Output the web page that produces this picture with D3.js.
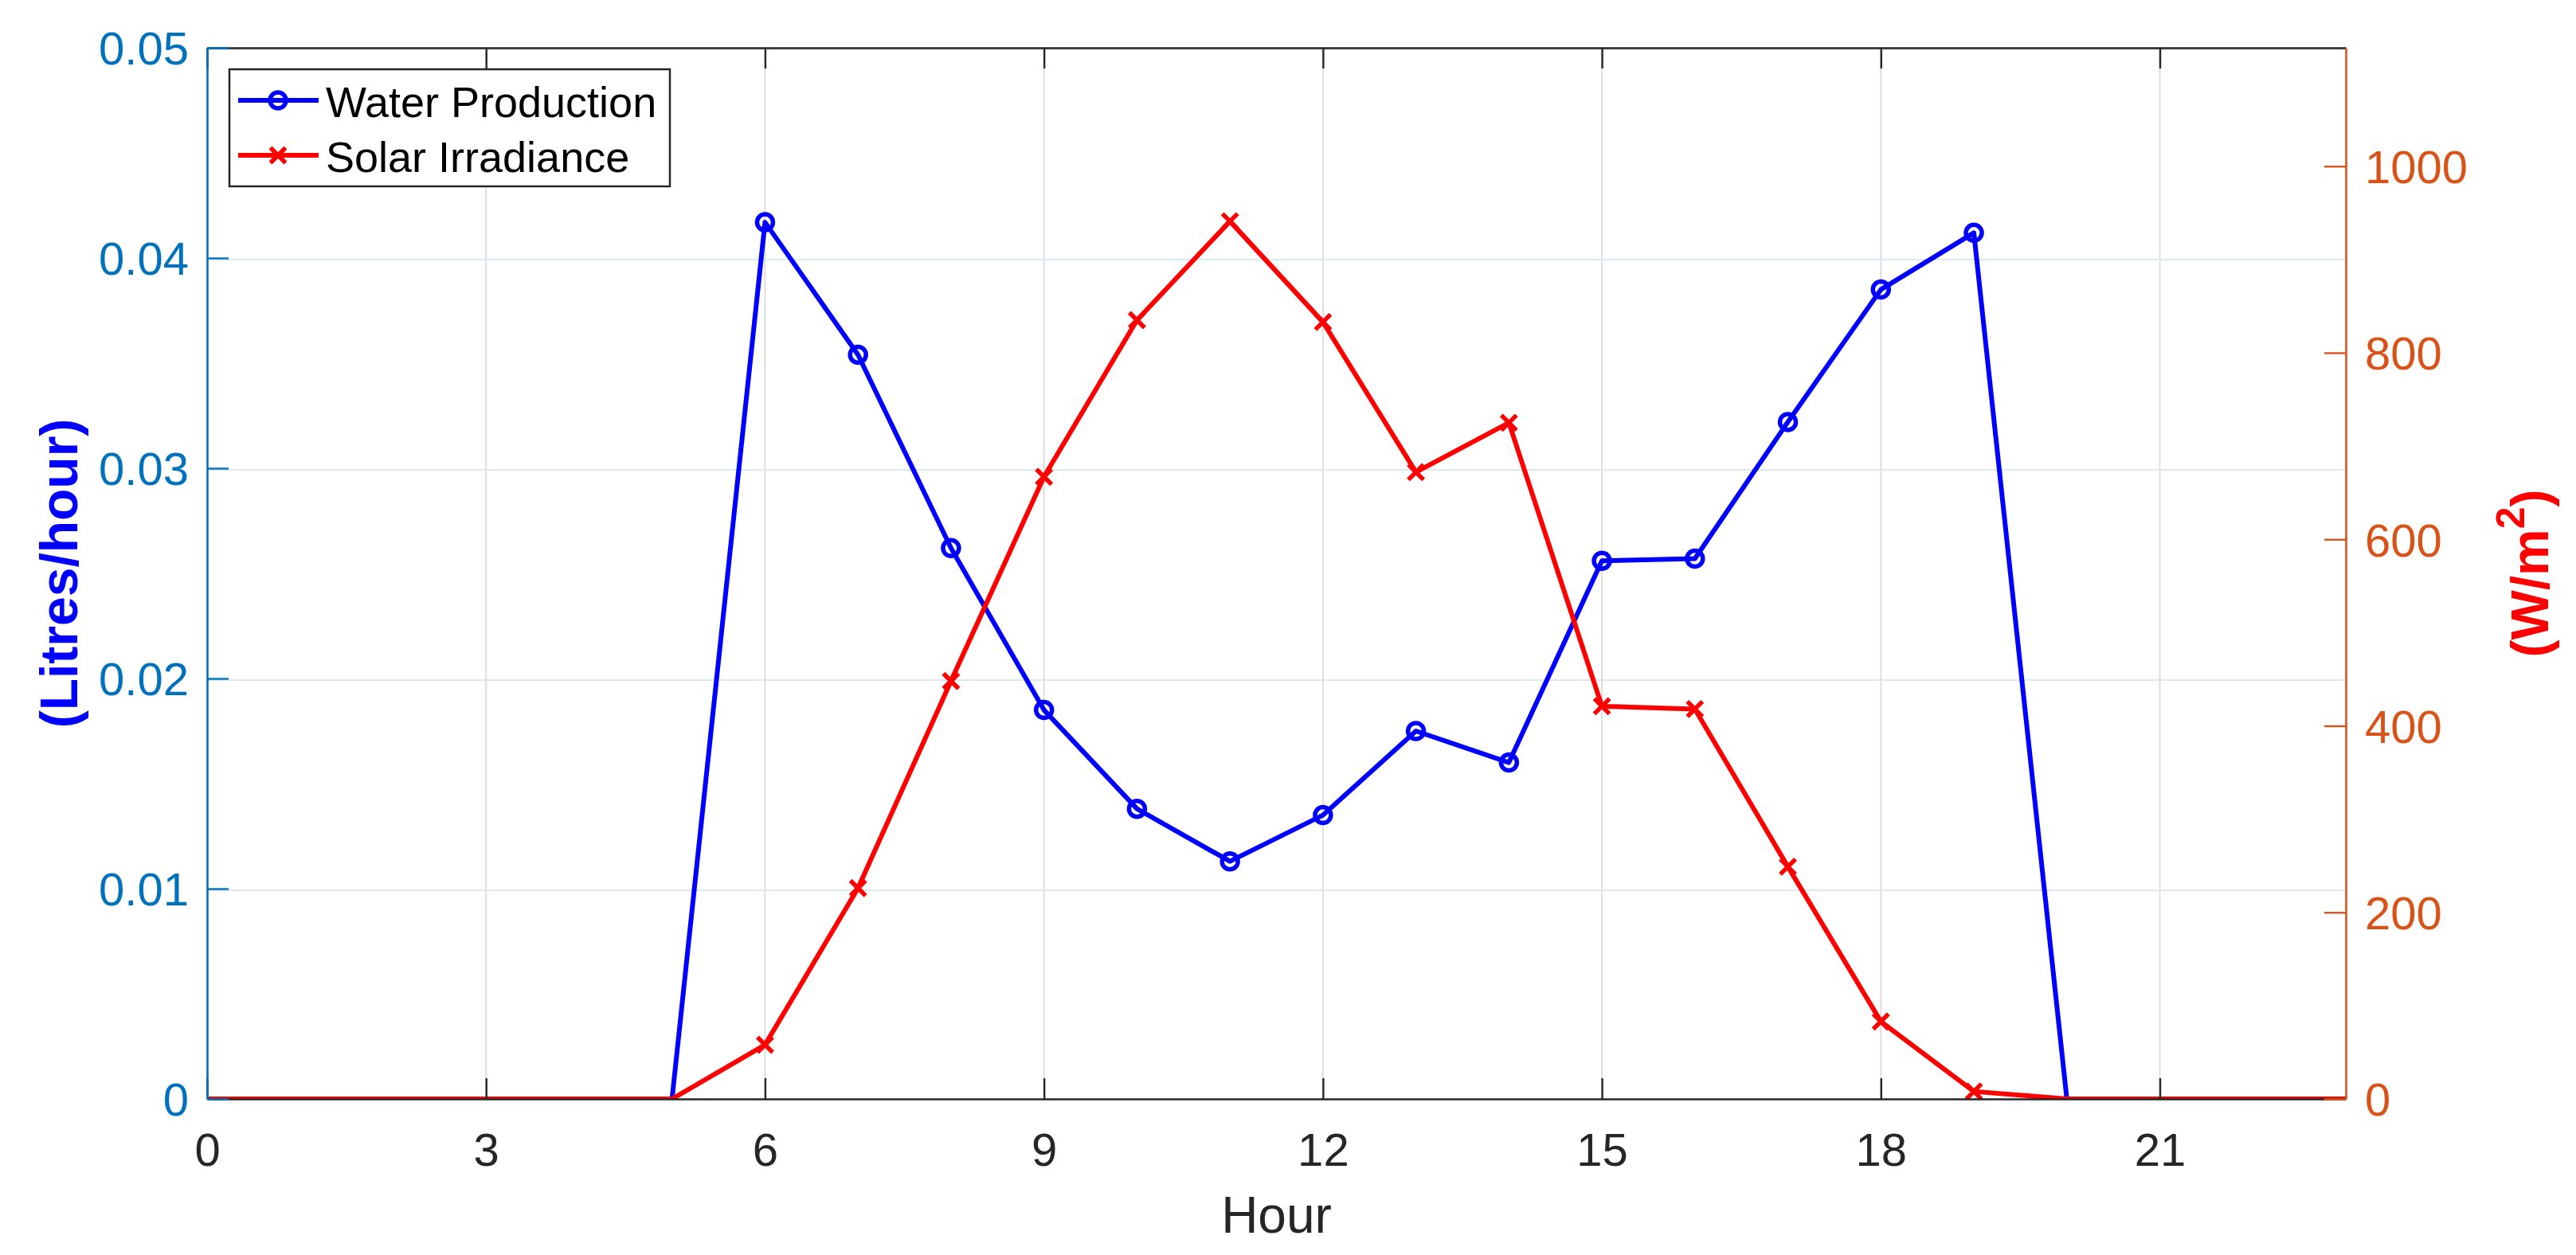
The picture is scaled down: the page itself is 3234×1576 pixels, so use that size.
<!DOCTYPE html>
<html lang="en">
<head>
    <meta charset="UTF-8">
    <title>water vs solar</title>
    <script src="https://d3js.org/d3.v7.min.js"></script>
    <style>
        body { margin: 0; background: #fff; }
        text { font-family: "Liberation Sans", Arial, Helvetica, sans-serif; }
    </style>
</head>
<body>
<script>
    const width = 3234
    const height = 1576
    const plotLeft = 260, plotRight = 2945, plotTop = 60, plotBottom = 1380

    // hourly data
    const hours = [0, 1, 2, 3, 4, 5, 6, 7, 8, 9, 10, 11, 12, 13, 14, 15, 16, 17, 18, 19, 20, 21, 22, 23]
    const water = [0, 0, 0, 0, 0, 0, 0.0417, 0.0354, 0.0262, 0.0185, 0.0138, 0.0113, 0.0135, 0.0175,
        0.0160, 0.0256, 0.0257, 0.0322, 0.0385, 0.0412, 0, 0, 0, 0]
    const solar = [0, 0, 0, 0, 0, 0, 58, 226, 448, 667, 835, 941, 833, 672, 725, 421, 418, 249, 83, 8,
        0, 0, 0, 0]
    const xTicks = [0, 3, 6, 9, 12, 15, 18, 21]
    const leftTicks = [0, 0.01, 0.02, 0.03, 0.04, 0.05]
    const rightTicks = [0, 200, 400, 600, 800, 1000]
    const seriesNames = ['Water Production', 'Solar Irradiance']

    const blueAxis = '#0072BD'
    const orangeAxis = '#D95319'
    const dark = '#262626'

    var svg = d3.select("body")
        .append("svg")
        .attr("width", width)
        .attr("height", height)

    var xScale = d3.scaleLinear().domain([0, 23]).range([plotLeft, plotRight])
    var yLeft = d3.scaleLinear().domain([0, 0.05]).range([plotBottom, plotTop])
    var yRight = d3.scaleLinear().domain([0, 1127]).range([plotBottom, plotTop])

    svg.append("defs").append("clipPath")
        .attr("id", "plot")
        .append("rect")
        .attr("x", plotLeft).attr("y", plotTop)
        .attr("width", plotRight - plotLeft).attr("height", plotBottom - plotTop)

    // grid
    svg.append("g")
        .selectAll("line")
        .data(xTicks.slice(1))
        .enter()
        .append("line")
        .attr("x1", d => xScale(d)).attr("x2", d => xScale(d))
        .attr("y1", plotTop).attr("y2", plotBottom)
        .attr("stroke", "#dedede")
        .attr("stroke-width", 2)
    svg.append("g")
        .selectAll("line")
        .data(leftTicks.slice(1))
        .enter()
        .append("line")
        .attr("x1", plotLeft).attr("x2", plotRight)
        .attr("y1", d => yLeft(d) + 2).attr("y2", d => yLeft(d) + 2)
        .attr("stroke", "#d9eaf5")
        .attr("stroke-width", 2)

    var plot = svg.append("g").attr("clip-path", "url(#plot)")

    var waterLine = d3.line()
        .x((d, i) => xScale(hours[i]))
        .y(d => yLeft(d))
    var solarLine = d3.line()
        .x((d, i) => xScale(hours[i]))
        .y(d => yRight(d))

    plot.append("path")
        .attr("d", waterLine(water))
        .attr("fill", "none")
        .attr("stroke", "#0000FF")
        .attr("stroke-width", 6)
        .attr("stroke-linejoin", "round")
    plot.append("path")
        .attr("d", solarLine(solar))
        .attr("fill", "none")
        .attr("stroke", "#FF0000")
        .attr("stroke-width", 6)
        .attr("stroke-linejoin", "round")

    const waterPts = hours.map((h, i) => ({h: h, v: water[i]})).filter(d => d.v > 0)
    const solarPts = hours.map((h, i) => ({h: h, v: solar[i]})).filter(d => d.v > 0)

    plot.append("g")
        .selectAll("circle")
        .data(waterPts)
        .enter()
        .append("circle")
        .attr("cx", d => xScale(d.h))
        .attr("cy", d => yLeft(d.v))
        .attr("r", 10)
        .attr("fill", "none")
        .attr("stroke", "#0000FF")
        .attr("stroke-width", 5.5)

    function cross(x, y, s) {
        return "M" + (x - s) + "," + (y - s) + "L" + (x + s) + "," + (y + s) +
            "M" + (x - s) + "," + (y + s) + "L" + (x + s) + "," + (y - s)
    }

    plot.append("g")
        .selectAll("path")
        .data(solarPts)
        .enter()
        .append("path")
        .attr("d", d => cross(xScale(d.h), yRight(d.v), 9.5))
        .attr("stroke", "#FF0000")
        .attr("stroke-width", 5.5)

    // axes
    function styleAxis(g, color) {
        g.selectAll(".domain").attr("stroke", color).attr("stroke-width", 2.6)
        g.selectAll(".tick line").attr("stroke", color).attr("stroke-width", 2.4)
        g.selectAll(".tick text")
            .attr("fill", color)
            .attr("font-size", 58)
            .attr("font-family", '"Liberation Sans", Arial, sans-serif')
    }

    var gTop = svg.append("g")
        .attr("transform", "translate(0," + plotTop + ")")
        .call(d3.axisTop(xScale).tickValues(xTicks).tickSize(-26).tickSizeOuter(0).tickFormat(""))
    styleAxis(gTop, dark)

    var gBottom = svg.append("g")
        .attr("transform", "translate(0," + plotBottom + ")")
        .call(d3.axisBottom(xScale).tickValues(xTicks).tickSize(-26).tickSizeOuter(0).tickPadding(43)
            .tickFormat(d3.format("d")))
    styleAxis(gBottom, dark)

    var gLeft = svg.append("g")
        .attr("transform", "translate(" + plotLeft + ",0)")
        .call(d3.axisLeft(yLeft).tickValues(leftTicks).tickSize(-27).tickSizeOuter(0).tickPadding(23)
            .tickFormat(d => d === 0 ? "0" : d3.format(".2f")(d)))
    styleAxis(gLeft, blueAxis)
    gLeft.selectAll(".tick text").attr("dy", "0.36em")

    var gRight = svg.append("g")
        .attr("transform", "translate(" + plotRight + ",0)")
        .call(d3.axisRight(yRight).tickValues(rightTicks).tickSize(-27).tickSizeOuter(0).tickPadding(24)
            .tickFormat(d3.format("d")))
    styleAxis(gRight, orangeAxis)
    gRight.selectAll(".tick text").attr("dy", "0.36em")

    // axis titles
    svg.append("text")
        .text("Hour")
        .attr("x", (plotLeft + plotRight) / 2)
        .attr("y", 1548)
        .attr("text-anchor", "middle")
        .attr("font-size", 64)
        .attr("fill", dark)

    svg.append("text")
        .text("(Litres/hour)")
        .attr("transform", "translate(97," + (plotTop + plotBottom) / 2 + ") rotate(-90)")
        .attr("text-anchor", "middle")
        .attr("font-size", 66)
        .attr("font-weight", "bold")
        .attr("fill", "#0000FF")

    var rLabel = svg.append("text")
        .attr("transform", "translate(3199," + (plotTop + plotBottom) / 2 + ") rotate(-90)")
        .attr("text-anchor", "middle")
        .attr("font-size", 66)
        .attr("font-weight", "bold")
        .attr("fill", "#FF0000")
    rLabel.append("tspan").text("(W/m")
    rLabel.append("tspan").text("2").attr("font-size", 50).attr("dy", -30)
    rLabel.append("tspan").text(")").attr("dy", 30)

    // legend
    var legend = svg.append("g")
    legend.append("rect")
        .attr("x", 288).attr("y", 87)
        .attr("width", 553).attr("height", 147)
        .attr("fill", "#fff")
        .attr("stroke", dark)
        .attr("stroke-width", 2.5)
    const legendY = [126, 195]
    const legendColors = ['#0000FF', '#FF0000']
    for (var j = 0; j < 2; j++) {
        legend.append("line")
            .attr("x1", 299).attr("x2", 400)
            .attr("y1", legendY[j]).attr("y2", legendY[j])
            .attr("stroke", legendColors[j])
            .attr("stroke-width", 6)
        legend.append("text")
            .text(seriesNames[j])
            .attr("x", 409)
            .attr("y", legendY[j] + 21)
            .attr("font-size", 54)
            .attr("fill", "#000")
    }
    legend.append("circle")
        .attr("cx", 349).attr("cy", legendY[0])
        .attr("r", 10)
        .attr("fill", "none")
        .attr("stroke", "#0000FF")
        .attr("stroke-width", 5.5)
    legend.append("path")
        .attr("d", cross(349, legendY[1], 9.5))
        .attr("stroke", "#FF0000")
        .attr("stroke-width", 5.5)
</script>
</body>
</html>
